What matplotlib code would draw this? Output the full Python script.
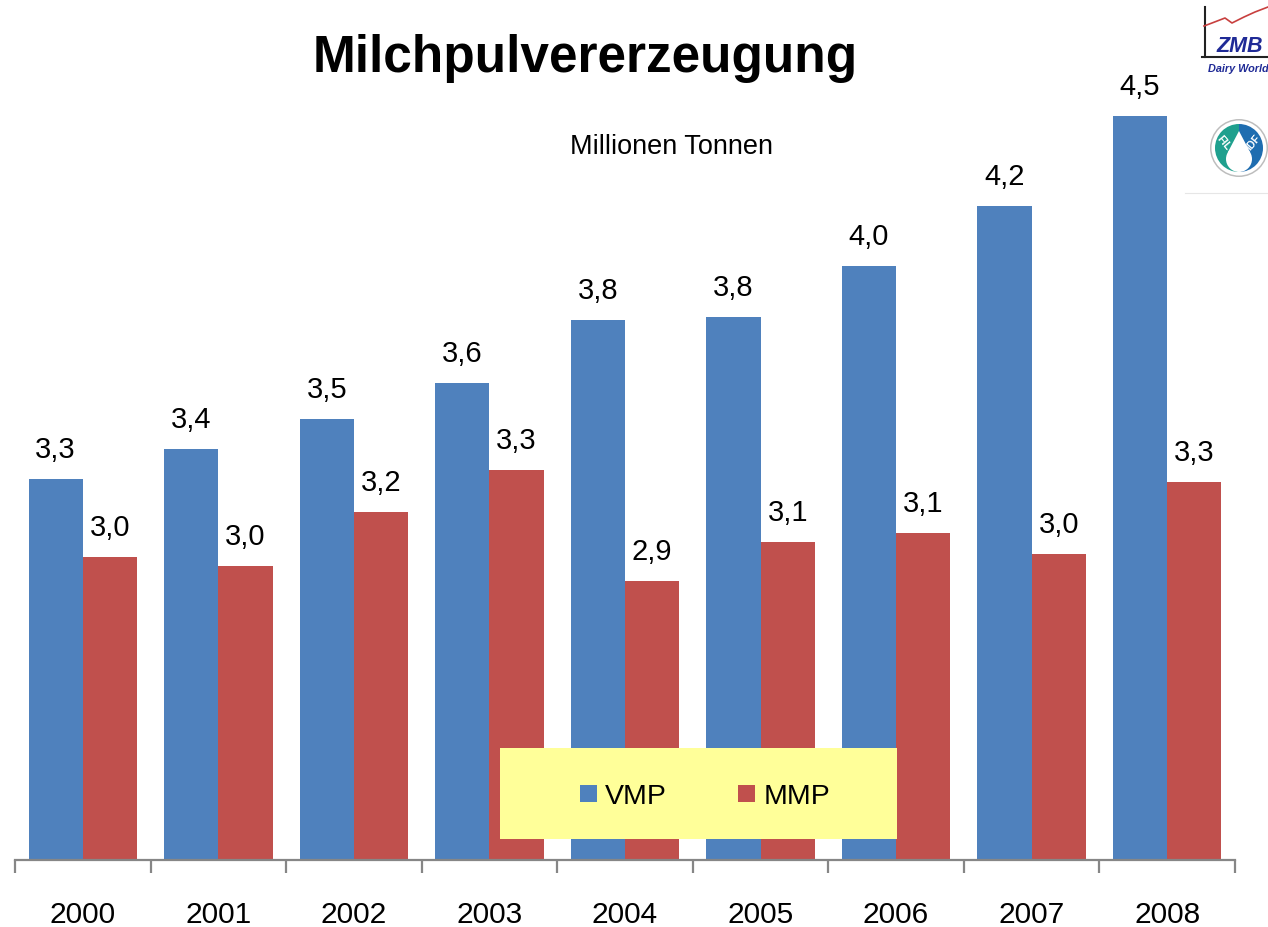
import matplotlib
matplotlib.use('Agg')
import matplotlib.pyplot as plt
from matplotlib.patches import Rectangle, Circle, Polygon, Wedge
import numpy as np

plt.rcParams['font.family'] = ['Liberation Sans', 'DejaVu Sans']

# Data (axis starts at 2, not at 0)
years = ['2000', '2001', '2002', '2003', '2004', '2005', '2006', '2007', '2008']
vmp = [3.27, 3.37, 3.47, 3.59, 3.80, 3.81, 3.98, 4.18, 4.48]
mmp = [3.01, 2.98, 3.16, 3.30, 2.93, 3.06, 3.09, 3.02, 3.26]
vmp_labels = ['3,3', '3,4', '3,5', '3,6', '3,8', '3,8', '4,0', '4,2', '4,5']
mmp_labels = ['3,0', '3,0', '3,2', '3,3', '2,9', '3,1', '3,1', '3,0', '3,3']

blue = '#4F81BD'
red = '#C0504D'
grey = '#868686'

W, H = 1268, 928
fig = plt.figure(figsize=(W / 100, H / 100), dpi=100, facecolor='white')
ax = fig.add_axes([15 / W, (H - 861) / H, 1220 / W, 861 / H])

x = np.arange(len(years))
bar_w = 0.4
ax.bar(x - bar_w / 2, vmp, bar_w, color=blue)
ax.bar(x + bar_w / 2, mmp, bar_w, color=red)

ax.set_xlim(-0.5, 8.5)
ax.set_ylim(2.0, 2.0 + 861 / 300)
ax.patch.set_alpha(0)
for s in ['top', 'right', 'left']:
    ax.spines[s].set_visible(False)
ax.spines['bottom'].set_color(grey)
ax.spines['bottom'].set_linewidth(1.6)
ax.set_yticks([])

# ticks sit between the categories, labels in the middle
ax.set_xticks(np.arange(-0.5, 9.0, 1))
ax.set_xticklabels([])
ax.tick_params(axis='x', length=9, width=1.6, color=grey)
ax.set_xticks(x, minor=True)
ax.set_xticklabels(years, minor=True, fontsize=21.5)
ax.tick_params(axis='x', which='minor', length=0, pad=28.5)

# value labels above the bars
for i in range(len(years)):
    ax.annotate(vmp_labels[i], (x[i] - bar_w / 2, vmp[i]), xytext=(0, 15.5), textcoords='offset points',
                ha='center', va='baseline', fontsize=21)
    ax.annotate(mmp_labels[i], (x[i] + bar_w / 2, mmp[i]), xytext=(0, 16), textcoords='offset points',
                ha='center', va='baseline', fontsize=21)

# overlay in pixel coordinates for title, legend box and logos
ov = fig.add_axes([0, 0, 1, 1])
ov.set_xlim(0, W)
ov.set_ylim(H, 0)
ov.axis('off')
ov.patch.set_alpha(0)

ov.text(585, 72, 'Milchpulvererzeugung', fontsize=37, fontweight='bold', ha='center', va='baseline')
ov.text(672, 154, 'Millionen Tonnen', fontsize=19.5, ha='center', va='baseline')

# legend
ov.add_patch(Rectangle((500, 749), 397, 91, color='#FFFF99', lw=0))
ov.add_patch(Rectangle((580, 786), 17, 17, color=blue, lw=0))
ov.add_patch(Rectangle((738, 786), 17, 17, color=red, lw=0))
ov.text(605, 804, 'VMP', fontsize=20.5, ha='left', va='baseline')
ov.text(764, 804, 'MMP', fontsize=20.5, ha='left', va='baseline')

# ZMB logo
ov.plot([1205, 1205], [8, 58], color='#222222', lw=1.5)
ov.plot([1202, 1268], [58, 58], color='#222222', lw=1.5)
line_x = [1204, 1212, 1225, 1232, 1244, 1255, 1268]
line_y = [27, 24, 19, 24, 18, 13, 8]
ov.plot(line_x, line_y, color='#C8403F', lw=1.2)
ov.text(1240, 52, 'ZMB', fontsize=15.5, fontstyle='italic', fontweight='bold', color='#1F2A96', ha='center', va='baseline')
ov.text(1208, 72, 'Dairy World', fontsize=7.8, fontstyle='italic', fontweight='bold', color='#1F2A96',
        ha='left', va='baseline')

# FIL IDF logo
cx, cy, r = 1239, 149, 29
ov.add_patch(Circle((cx, cy), r, color='#BDBDBD', lw=0))
ov.add_patch(Circle((cx, cy), r - 1.5, color='white', lw=0))
ov.add_patch(Wedge((cx, cy), r - 5, 90, 270, color='#1FA08E', lw=0))
ov.add_patch(Wedge((cx, cy), r - 5, 270, 90, color='#1F6DB0', lw=0))
ov.add_patch(Circle((cx, cy + 11), 13, color='white', lw=0))
ov.add_patch(Polygon([(cx - 11, cy + 4), (cx + 11, cy + 4), (cx, cy - 17)], color='white', lw=0))
ov.text(cx - 15, cy - 6, 'FIL', fontsize=7.5, color='white', fontweight='bold', rotation=-50, ha='center', va='center')
ov.text(cx + 14, cy - 6, 'IDF', fontsize=7.5, color='white', fontweight='bold', rotation=50, ha='center', va='center')
ov.plot([1185, 1268], [194, 194], color='#E6E6E6', lw=0.8)

fig.savefig('out.png', dpi=100)
